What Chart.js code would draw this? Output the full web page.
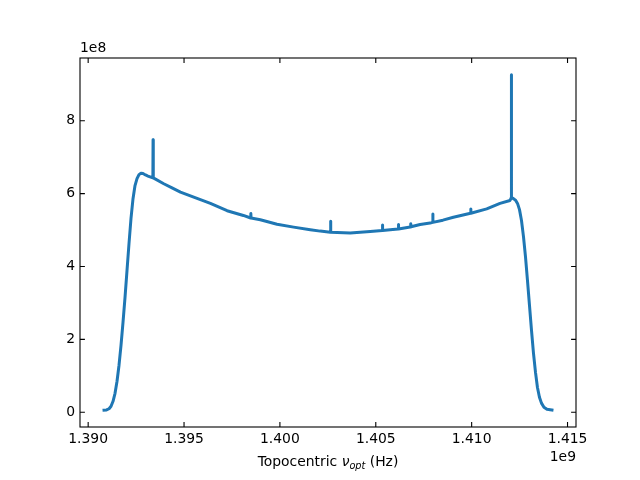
<!DOCTYPE html>
<html>
<head>
<meta charset="utf-8">
<script src="https://cdn.jsdelivr.net/npm/chart.js@4/dist/chart.umd.min.js"></script>
<style>
  html, body { margin: 0; background: #fff; }
</style>
</head>
<body>
<canvas id="spec" width="640" height="480"></canvas>
<script>
// topocentric frequency (MHz) and power (units of 1e8)
const freqMHz = [
  1390.750, 1390.958, 1391.089, 1391.193, 1391.297, 1391.401, 1391.505, 1391.609,
  1391.714, 1391.818, 1391.922, 1392.026, 1392.130, 1392.234, 1392.339, 1392.443,
  1392.547, 1392.651, 1392.755, 1392.859, 1392.990, 1393.120, 1393.375, 1393.385,
  1393.396, 1393.943, 1394.400, 1394.813, 1395.505, 1396.375, 1397.245, 1398.094,
  1398.474, 1398.484, 1398.494, 1398.979, 1399.849, 1400.714, 1401.583, 1402.100,
  1402.625, 1402.641, 1402.657, 1403.667, 1404.708, 1405.339, 1405.349, 1405.359,
  1405.750, 1406.172, 1406.182, 1406.192, 1406.792, 1406.818, 1406.828, 1406.838,
  1407.313, 1407.833, 1407.964, 1407.974, 1407.984, 1408.500, 1409.047, 1409.943,
  1409.953, 1409.963, 1410.786, 1411.479, 1412.000, 1412.068, 1412.073, 1412.078,
  1412.182, 1412.286, 1412.391, 1412.495, 1412.599, 1412.703, 1412.807, 1412.911,
  1413.016, 1413.120, 1413.224, 1413.328, 1413.432, 1413.536, 1413.641, 1413.771,
  1413.927, 1414.266
];
const power = [
  0.055, 0.063, 0.096, 0.164, 0.30, 0.52, 0.85, 1.29,
  1.84, 2.47, 3.15, 3.89, 4.63, 5.32, 5.86, 6.22,
  6.41, 6.52, 6.56, 6.55, 6.51, 6.48, 6.43, 7.48,
  6.43, 6.27, 6.15, 6.04, 5.90, 5.73, 5.53, 5.40,
  5.33, 5.45, 5.33, 5.28, 5.16, 5.08, 5.01, 4.97,
  4.94, 5.24, 4.94, 4.92, 4.96, 4.99, 5.14, 4.99,
  5.01, 5.03, 5.15, 5.03, 5.08, 5.09, 5.17, 5.09,
  5.15, 5.19, 5.21, 5.44, 5.21, 5.27, 5.35, 5.46,
  5.58, 5.46, 5.58, 5.73, 5.81, 5.89, 9.26, 5.89,
  5.86, 5.82, 5.73, 5.56, 5.26, 4.82, 4.27, 3.62,
  2.93, 2.25, 1.62, 1.10, 0.68, 0.41, 0.25, 0.137,
  0.082, 0.055
];
const xTicks = [1390, 1395, 1400, 1405, 1410, 1415];
const yTicks = [0, 2, 4, 6, 8];

const FONT = 'DejaVu Sans';
const FS = 13.9;

// matplotlib-style 5% margins around the data
function padRange(arr) {
  const lo = Math.min(...arr), hi = Math.max(...arr), m = (hi - lo) * 0.05;
  return [lo - m, hi + m];
}
const [xMin, xMax] = padRange(freqMHz);
const [yMin, yMax] = padRange(power);

const frame = {
  id: 'frame',
  afterDraw(chart) {
    const { ctx, chartArea: a, scales: { x, y } } = chart;
    const tl = 4.9;
    ctx.save();
    ctx.strokeStyle = '#000';
    ctx.lineWidth = 1.1;
    ctx.strokeRect(a.left, a.top, a.right - a.left, a.bottom - a.top);
    ctx.beginPath();
    xTicks.forEach(v => {
      const px = x.getPixelForValue(v);
      ctx.moveTo(px, a.bottom); ctx.lineTo(px, a.bottom - tl);
      ctx.moveTo(px, a.top); ctx.lineTo(px, a.top + tl);
    });
    yTicks.forEach(v => {
      const py = y.getPixelForValue(v);
      ctx.moveTo(a.left, py); ctx.lineTo(a.left + tl, py);
      ctx.moveTo(a.right, py); ctx.lineTo(a.right - tl, py);
    });
    ctx.stroke();

    ctx.fillStyle = '#000';
    ctx.font = `${FS}px "${FONT}"`;
    ctx.textBaseline = 'alphabetic';
    ctx.textAlign = 'left';
    ctx.fillText('1e8', a.left, a.top - 6);
    ctx.textAlign = 'right';
    ctx.fillText('1e9', a.right, 461);

    // x label with math-style subscript
    const parts = [
      { t: 'Topocentric ', f: `${FS}px "${FONT}"`, dy: 0 },
      { t: 'ν', f: `italic ${FS}px "${FONT}"`, dy: 0 },
      { t: 'opt', f: `italic ${FS * 0.7}px "${FONT}"`, dy: 3 },
      { t: ' (Hz)', f: `${FS}px "${FONT}"`, dy: 0 }
    ];
    let w = 0;
    parts.forEach(p => { ctx.font = p.f; p.w = ctx.measureText(p.t).width; w += p.w; });
    let cx = (a.left + a.right) / 2 - w / 2;
    ctx.textAlign = 'left';
    parts.forEach(p => { ctx.font = p.f; ctx.fillText(p.t, cx, 466 + p.dy); cx += p.w; });
    ctx.restore();
  }
};

new Chart(document.getElementById('spec'), {
  type: 'line',
  data: {
    datasets: [{
      data: freqMHz.map((f, i) => ({ x: f, y: power[i] })),
      borderColor: '#1f77b4',
      borderWidth: 3,
      borderJoinStyle: 'round',
      pointRadius: 0,
      fill: false,
      tension: 0
    }]
  },
  options: {
    responsive: false,
    animation: false,
    layout: { padding: { top: 58, right: 64, left: 0, bottom: 0 } },
    plugins: { legend: { display: false }, tooltip: { enabled: false } },
    scales: {
      x: {
        type: 'linear', min: xMin, max: xMax,
        grid: { display: false, drawTicks: false },
        border: { display: false },
        afterFit(s) { s.height = 53; },
        afterBuildTicks(s) { s.ticks = xTicks.map(v => ({ value: v })); },
        ticks: {
          color: '#000', font: { family: FONT, size: FS }, padding: 4,
          maxRotation: 0, autoSkip: false,
          callback: v => (v / 1000).toFixed(3)
        }
      },
      y: {
        type: 'linear', min: yMin, max: yMax,
        grid: { display: false, drawTicks: false },
        border: { display: false },
        afterFit(s) { s.width = 80; },
        afterBuildTicks(s) { s.ticks = yTicks.map(v => ({ value: v })); },
        ticks: {
          color: '#000', font: { family: FONT, size: FS }, padding: 5,
          autoSkip: false,
          callback: v => String(v)
        }
      }
    }
  },
  plugins: [frame]
});
</script>
</body>
</html>
